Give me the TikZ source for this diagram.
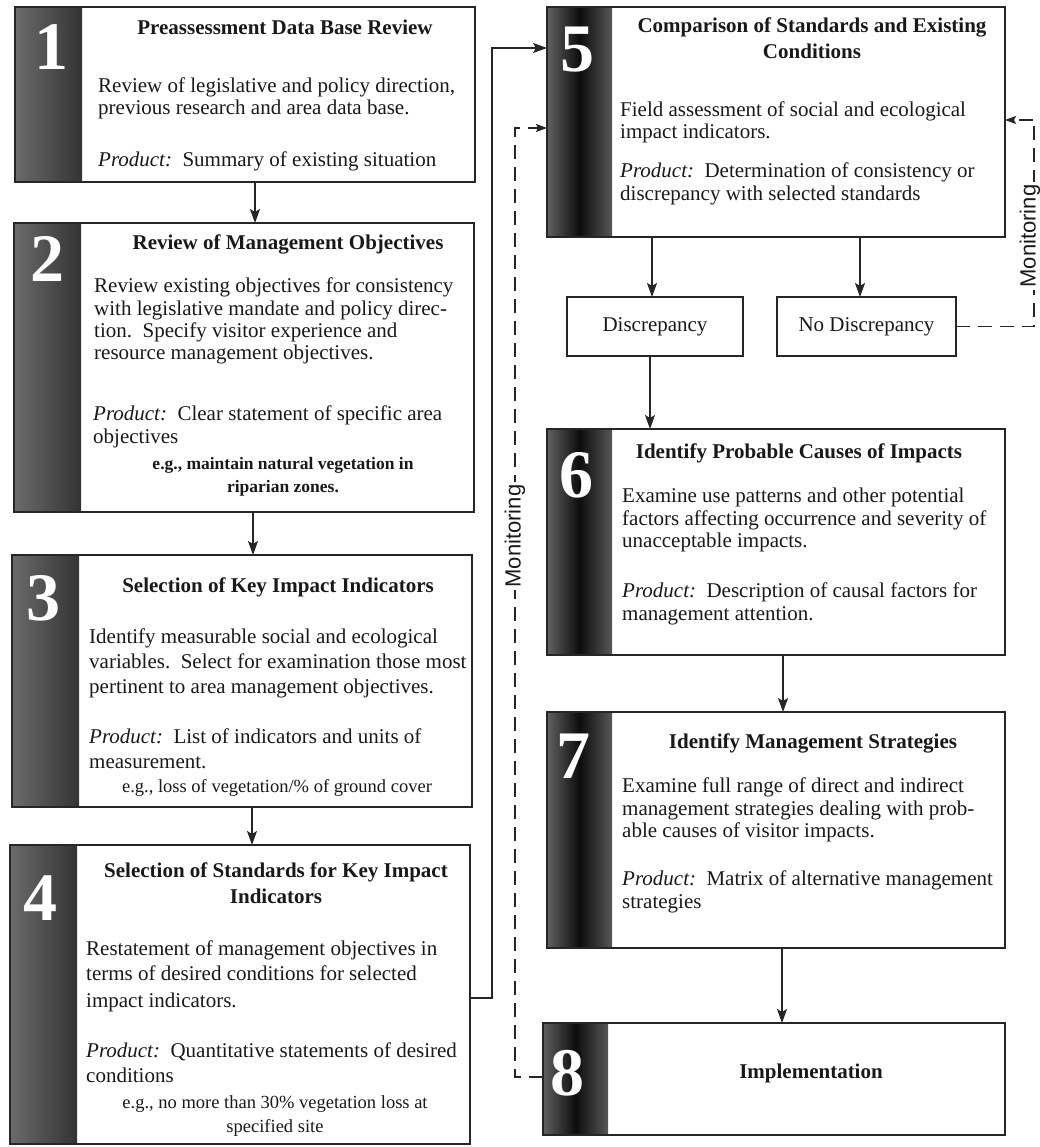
\documentclass[tikz,border=0pt]{standalone}
\usepackage{fontspec}
\setmainfont{Liberation Serif}
\setsansfont{Liberation Sans}
\usetikzlibrary{arrows.meta}

% one process step: outlined box with a shaded number bar on its left
\newcommand\ProcBox[7]{%
  \node[pbox, minimum width=#4pt, minimum height=#5pt] (#1) at (#2,#3) {};
  \shade[#7] (#1.north west) rectangle ([xshift=#6pt]#1.south west);
  \draw[boxedge] (#1.north west) rectangle (#1.south east);
}

\begin{document}
\begin{tikzpicture}[x=1pt, y=-1pt,
  pbox/.style={fill=white, draw=none, inner sep=0pt, outer sep=0pt},
  boxedge/.style={draw=black!85, line width=1.6pt},
  barL/.style={left color=black!58, right color=black!80},
  barR/.style={left color=black!62, right color=black!66, middle color=black!95},
  num/.style={font=\bfseries\fontsize{68}{68}\selectfont, text=white, inner sep=0pt, anchor=base},
  ttl/.style={font=\bfseries\fontsize{21}{22}\selectfont, text=black!90, inner sep=0pt, anchor=base},
  txt/.style={font=\fontsize{21}{22}\selectfont, text=black!90, inner sep=0pt, anchor=base west},
  egb/.style={font=\bfseries\fontsize{17.5}{18}\selectfont, text=black!90, inner sep=0pt, anchor=base},
  egr/.style={font=\fontsize{18.5}{19}\selectfont, text=black!90, inner sep=0pt, anchor=base},
  smallbox/.style={draw=black!85, line width=1.6pt, fill=white, inner sep=0pt, outer sep=0pt,
                   font=\fontsize{21}{22}\selectfont, text=black!90},
  flow/.style={draw=black!85, line width=1.4pt, -{Stealth[length=14pt, width=10pt, inset=3pt]}},
  monline/.style={draw=black!85, line width=1.4pt, dash pattern=on 14pt off 8pt,
                  -{Stealth[length=11pt, width=8pt, inset=2pt]}},
  montxt/.style={font=\sffamily\fontsize{22}{22}\selectfont, text=black!90, rotate=90,
                 fill=white, inner sep=3pt}
]
\useasboundingbox[fill=white] (0,0) rectangle (1039,1147);

% ---------- left column: steps 1-4 ----------
\ProcBox{b1}{245}{94.5}{460}{175}{67}{barL}
\ProcBox{b2}{244}{367.5}{460}{289}{67}{barL}
\ProcBox{b3}{242}{681}{460}{252}{67}{barL}
\ProcBox{b4}{240}{994.5}{460}{299}{67}{barL}

% ---------- right column: steps 5-8 ----------
\ProcBox{b5}{776}{122}{458}{230}{65}{barR}
\ProcBox{b6}{776}{542}{458}{226}{65}{barR}
\ProcBox{b7}{776}{830}{458}{236}{65}{barR}
\ProcBox{b8}{774}{1079}{462}{112}{65}{barR}

% outcome boxes
\node[smallbox, minimum width=176pt, minimum height=59pt] (dis) at (655,326.5) {Discrepancy};
\node[smallbox, minimum width=179pt, minimum height=59pt] (nod) at (866.5,326.5) {No Discrepancy};

% step numbers
\node[num] (n1) at (51,70) {1};
\node[num] (n2) at (47,282) {2};
\node[num] (n3) at (43,620) {3};
\node[num] (n4) at (40,920) {4};
\node[num] (n5) at (577,72) {5};
\node[num] (n6) at (576,497) {6};
\node[num] (n7) at (573,778) {7};
\node[num] (n8) at (567,1095) {8};

% step 1
\node[ttl] (t1) at (285,35) {Preassessment Data Base Review};
\node[txt] (t1a) at (98,93) {Review of legislative and policy direction,};
\node[txt] (t1b) at (98,115) {previous research and area data base.};
\node[txt] (t1c) at (98,167) {\textit{Product:}\ \ Summary of existing situation};

% step 2
\node[ttl] (t2) at (288,250) {Review of Management Objectives};
\node[txt] (t2a) at (94,293) {Review existing objectives for consistency};
\node[txt] (t2b) at (94,315) {with legislative mandate and policy direc-};
\node[txt] (t2c) at (94,337) {tion.\ \ Specify visitor experience and};
\node[txt] (t2d) at (94,359) {resource management objectives.};
\node[txt] (t2e) at (93,420) {\textit{Product:}\ \ Clear statement of specific area};
\node[txt] (t2f) at (93,443) {objectives};
\node[egb] (t2g) at (283,469) {e.g., maintain natural vegetation in};
\node[egb] (t2h) at (283,492) {riparian zones.};

% step 3
\node[ttl] (t3) at (278,592) {Selection of Key Impact Indicators};
\node[txt] (t3a) at (89,643) {Identify measurable social and ecological};
\node[txt] (t3b) at (89,668) {variables.\ \ Select for examination those most};
\node[txt] (t3c) at (89,693) {pertinent to area management objectives.};
\node[txt] (t3d) at (89,743) {\textit{Product:}\ \ List of indicators and units of};
\node[txt] (t3e) at (89,768) {measurement.};
\node[egr] (t3f) at (277,792) {e.g., loss of vegetation/\% of ground cover};

% step 4
\node[ttl] (t4) at (276,877) {Selection of Standards for Key Impact};
\node[ttl] (t4z) at (276,903) {Indicators};
\node[txt] (t4a) at (86,955) {Restatement of management objectives in};
\node[txt] (t4b) at (86,980) {terms of desired conditions for selected};
\node[txt] (t4c) at (86,1007) {impact indicators.};
\node[txt] (t4d) at (86,1057) {\textit{Product:}\ \ Quantitative statements of desired};
\node[txt] (t4e) at (86,1082) {conditions};
\node[egr] (t4f) at (275,1108) {e.g., no more than 30\% vegetation loss at};
\node[egr] (t4g) at (275,1132) {specified site};

% step 5
\node[ttl] (t5) at (812,33) {Comparison of Standards and Existing};
\node[ttl] (t5z) at (812,59) {Conditions};
\node[txt] (t5a) at (620,117) {Field assessment of social and ecological};
\node[txt] (t5b) at (620,139) {impact indicators.};
\node[txt] (t5c) at (620,178) {\textit{Product:}\ \ Determination of consistency or};
\node[txt] (t5d) at (620,201) {discrepancy with selected standards};

% step 6
\node[ttl] (t6) at (799,458) {Identify Probable Causes of Impacts};
\node[txt] (t6a) at (622,502) {Examine use patterns and other potential};
\node[txt] (t6b) at (622,525) {factors affecting occurrence and severity of};
\node[txt] (t6c) at (622,547) {unacceptable impacts.};
\node[txt] (t6d) at (622,597) {\textit{Product:}\ \ Description of causal factors for};
\node[txt] (t6e) at (622,620) {management attention.};

% step 7
\node[ttl] (t7) at (813,748) {Identify Management Strategies};
\node[txt] (t7a) at (622,792) {Examine full range of direct and indirect};
\node[txt] (t7b) at (622,815) {management strategies dealing with prob-};
\node[txt] (t7c) at (622,837) {able causes of visitor impacts.};
\node[txt] (t7d) at (622,885) {\textit{Product:}\ \ Matrix of alternative management};
\node[txt] (t7e) at (622,908) {strategies};

% step 8
\node[ttl] (t8) at (811,1078) {Implementation};

% ---------- connectors ----------
\coordinate (x12) at (255,0);
\coordinate (x23) at (253,0);
\coordinate (x34) at (252,0);
\coordinate (x5d) at (652,0);
\coordinate (x5n) at (860,0);
\coordinate (x56) at (650,0);
\coordinate (x67) at (783,0);
\coordinate (x78) at (782,0);
\coordinate (r45) at (0,998);
\coordinate (v45) at (492,0);
\coordinate (h45) at (0,48);
\coordinate (vm) at (515,0);
\coordinate (r8) at (0,1077);
\coordinate (hm) at (0,128);
\coordinate (vr) at (1034,0);
\coordinate (hr) at (0,120);

\draw[flow] (b1.south -| x12) -- (b2.north -| x12);
\draw[flow] (b2.south -| x23) -- (b3.north -| x23);
\draw[flow] (b3.south -| x34) -- (b4.north -| x34);
\draw[flow] (b4.east |- r45) -| (v45 |- h45) -- (b5.west |- h45);
\draw[flow] (b5.south -| x5d) -- (dis.north -| x5d);
\draw[flow] (b5.south -| x5n) -- (nod.north -| x5n);
\draw[flow] (dis.south -| x56) -- (b6.north -| x56);
\draw[flow] (b6.south -| x67) -- (b7.north -| x67);
\draw[flow] (b7.south -| x78) -- (b8.north -| x78);

% monitoring feedback loops
\draw[monline] (b8.west |- r8) -| (vm |- hm) -- (b5.west |- hm);
\draw[monline] (nod.east) -| (vr |- hr) -- (b5.east |- hr);
\node[montxt] (m1) at (515,536) {Monitoring};
\node[montxt] (m2) at (1030,236) {Monitoring};
\end{tikzpicture}
\end{document}
